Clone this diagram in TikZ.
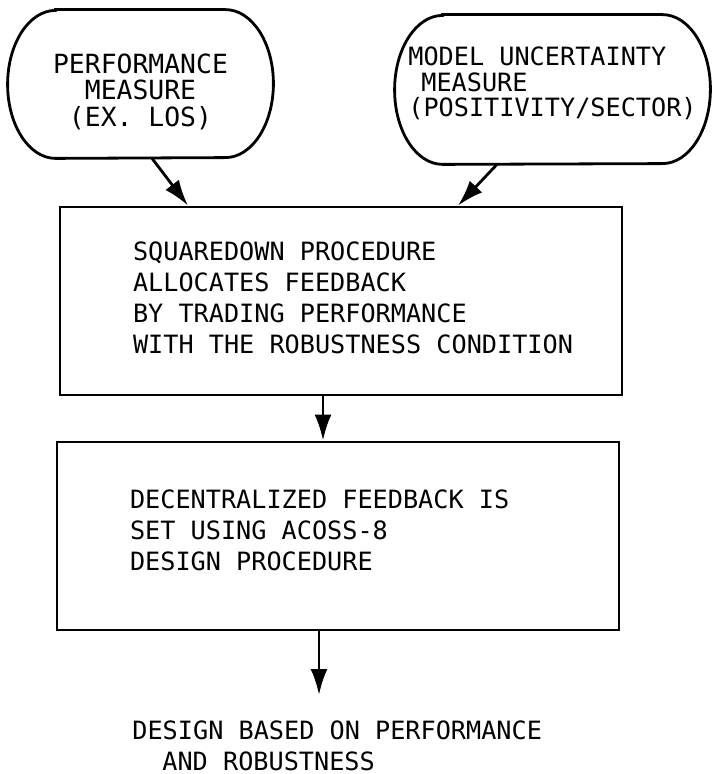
\documentclass[tikz,border=0pt]{standalone}
\usepackage{fontspec}
\newfontfamily\lettering{DejaVu Sans Mono}
\usetikzlibrary{arrows.meta}
\tikzset{
  capsule/.style={inner sep=0pt, font={\lettering\fontsize{12.6}{12.8}\selectfont}},
  outline/.style={line width=1.4pt},
  stepbox/.style={draw, line width=1.4pt, minimum width=281pt, minimum height=94pt,
    inner xsep=0pt, text width=281pt, align=flush left,
    execute at begin node={\leftskip=36.5pt\spaceskip=\fontdimen2\font\relax},
    font={\lettering\fontsize{12.6}{15.5}\selectfont}},
  flow/.style={line width=1.4pt, -{Latex[length=13pt,width=8.5pt]}}
}
\begin{document}
\begin{tikzpicture}[x=0.5pt,y=-0.5pt]
\useasboundingbox (0,0) rectangle (711,774);
\node[capsule, font={\lettering\fontsize{13.2}{13.2}\selectfont}, text depth=0pt, minimum width=132.5pt, minimum height=74pt, align=center] (perf) at (140.5,84) {\rule{0pt}{16pt}PERFORMANCE\\MEASURE\\(EX. LOS)};
\draw[outline] ([xshift=24pt]perf.north west) -- ([xshift=-24pt]perf.north east)
  arc[start angle=90, end angle=-90, x radius=24pt, y radius=37pt] -- ([xshift=24pt]perf.south west)
  arc[start angle=270, end angle=90, x radius=24pt, y radius=37pt] -- cycle;
\node[capsule, minimum width=157.5pt, minimum height=74.5pt, align=left] (unc) at (552.5,89.5) {MODEL UNCERTAINTY\\\hspace*{6.5pt}MEASURE\\(POSITIVITY/SECTOR)\rule[-7.5pt]{0pt}{0pt}};
\draw[outline] ([xshift=24pt]unc.north west) -- ([xshift=-24pt]unc.north east)
  arc[start angle=90, end angle=-90, x radius=24pt, y radius=37.25pt] -- ([xshift=24pt]unc.south west)
  arc[start angle=270, end angle=90, x radius=24pt, y radius=37.25pt] -- cycle;
\node[stepbox] (sqd) at (341,301) {SQUAREDOWN PROCEDURE\\ALLOCATES FEEDBACK\\BY TRADING PERFORMANCE\\WITH THE ROBUSTNESS CONDITION\rule[-3pt]{0pt}{0pt}};
\node[stepbox] (dec) at (338,536) {DECENTRALIZED FEEDBACK IS\\SET USING ACOSS-8\\DESIGN PROCEDURE\rule[-6pt]{0pt}{0pt}};
\node[inner sep=0pt, align=left, anchor=north west, font={\lettering\fontsize{12.6}{15.5}\selectfont}] (res) at (132,720) {DESIGN BASED ON PERFORMANCE\\\hspace*{15pt}AND ROBUSTNESS};
\coordinate (out) at (319,695);
\draw[flow] ([xshift=5.75pt]perf.south) -- ([xshift=-76.5pt]sqd.north);
\draw[flow] ([xshift=-27.75pt]unc.south) -- ([xshift=58.5pt]sqd.north);
\draw[flow] ([xshift=-9pt]sqd.south) -- ([xshift=-7.5pt]dec.north);
\draw[flow] (dec.south -| out) -- (out);
\end{tikzpicture}
\end{document}
